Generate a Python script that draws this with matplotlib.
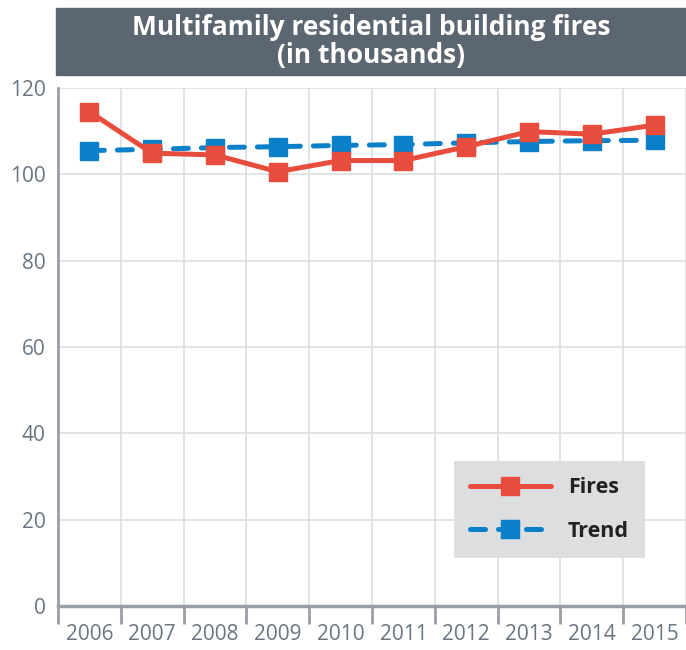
import matplotlib.pyplot as plt
from matplotlib.patches import Rectangle

plt.rcParams['font.family'] = ['Open Sans', 'DejaVu Sans']

# data (thousands of fires)
years = ['2006', '2007', '2008', '2009', '2010', '2011', '2012', '2013', '2014', '2015']
fires = [114.5, 104.9, 104.5, 100.6, 103.2, 103.2, 106.4, 109.9, 109.3, 111.4]
trend = [105.5, 105.8, 106.2, 106.4, 106.7, 106.9, 107.3, 107.6, 107.8, 107.9]
y_ticks = [0, 20, 40, 60, 80, 100, 120]
title = 'Multifamily residential building fires\n(in thousands)'

red = '#e84c3d'
blue = '#0a80c8'
grey_txt = '#6b7580'

fig = plt.figure(figsize=(6.86, 6.5), dpi=100)
ax = fig.add_axes([58/686, 1-606/650, 1-58/686, (606-88)/650])

x = list(range(len(years)))

# title banner
fig.patches.append(Rectangle((56/686, 1-75/650), 1-56/686, 67/650,
                             transform=fig.transFigure, color='#5b6670', zorder=0))
fig.text((56+686)/2/686, 1-41.5/650, title, ha='center', va='center',
         color='white', fontsize=19, fontweight='bold', linespacing=1.05)

ax.plot(x, trend, color=blue, lw=3.6, ls=(0, (3, 2.6)), dash_capstyle='round',
        marker='s', ms=13, mec=blue, mfc=blue, zorder=3, label='Trend')
ax.plot(x, fires, color=red, lw=3.6, marker='s', ms=13, mec=red, mfc=red,
        solid_capstyle='round', zorder=4, label='Fires')

ax.set_xlim(-0.5, len(years) - 0.5)
ax.set_ylim(0, 120)
ax.set_yticks(y_ticks)
ax.tick_params(axis='y', length=0, labelsize=15, labelcolor=grey_txt, pad=9)

# year labels centered, ticks and grid on the band edges
ax.set_xticks(x)
ax.set_xticklabels(years)
ax.tick_params(axis='x', which='major', length=0, labelsize=15,
               labelcolor=grey_txt, pad=13)
edges = [i - 0.5 for i in range(len(years) + 1)]
ax.set_xticks(edges, minor=True)
ax.tick_params(axis='x', which='minor', length=13, width=2, color='#9a9fa5')
ax.grid(True, which='minor', axis='x', color='#dcdfe2', lw=1.2)
ax.grid(True, which='major', axis='y', color='#dcdfe2', lw=1.2)
ax.set_axisbelow(True)

for side in ['top', 'right']:
    ax.spines[side].set_visible(False)
ax.spines['left'].set_color('#9a9fa5')
ax.spines['left'].set_linewidth(2)
ax.spines['bottom'].set_color('#9a9fa5')
ax.spines['bottom'].set_linewidth(2.5)

handles, labels = ax.get_legend_handles_labels()
leg = ax.legend(handles[::-1], labels[::-1], loc='lower right',
                bbox_to_anchor=((645-58)/628, (606-558)/518),
                frameon=True, fancybox=False, facecolor='#dcdee0', edgecolor='none',
                framealpha=1, handlelength=3.75, handletextpad=0.8,
                borderpad=0.75, labelspacing=1.05, borderaxespad=0,
                prop={'weight': 'bold', 'size': 15.5})
for t in leg.get_texts():
    t.set_color('#222222')

fig.savefig('out.png', dpi=100)
